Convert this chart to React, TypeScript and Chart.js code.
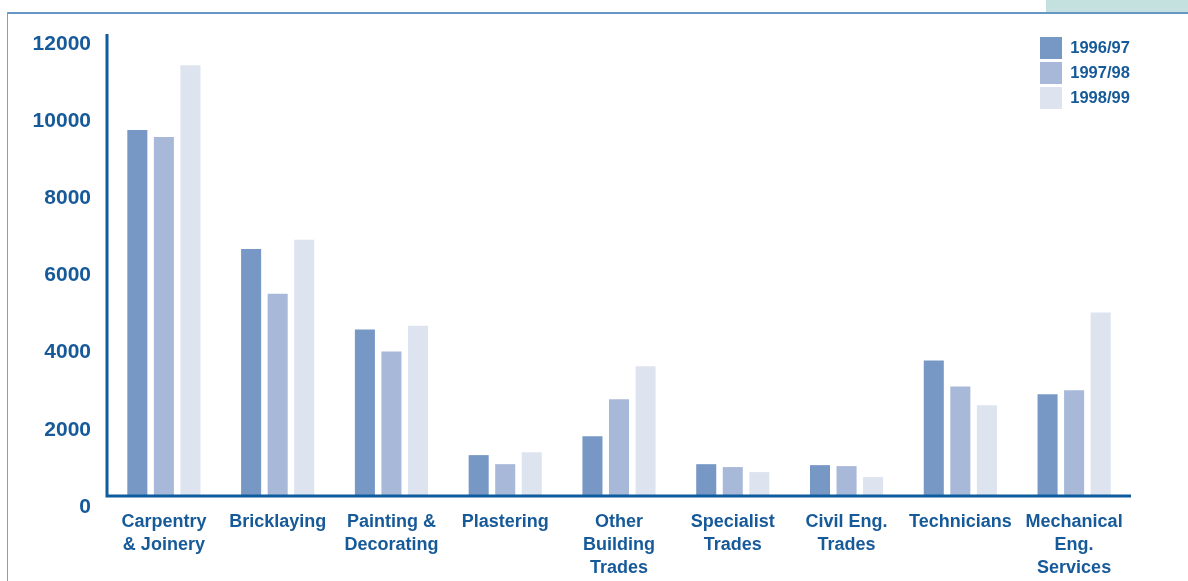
import React, { useEffect, useRef } from "react";
import { Chart, registerables } from "chart.js";

Chart.register(...registerables);

const categories: string[][] = [
  ["Carpentry", "& Joinery"],
  ["Bricklaying"],
  ["Painting &", "Decorating"],
  ["Plastering"],
  ["Other", "Building", "Trades"],
  ["Specialist", "Trades"],
  ["Civil Eng.", "Trades"],
  ["Technicians"],
  ["Mechanical", "Eng.", "Services"],
];

const seriesLabels = ["1996/97", "1997/98", "1998/99"];
const values9697 = [9770, 6690, 4600, 1345, 1835, 1110, 1085, 3800, 2920];
const values9798 = [9590, 5530, 4030, 1110, 2790, 1035, 1060, 3125, 3025];
const values9899 = [11450, 6925, 4700, 1420, 3645, 905, 775, 2635, 5040];
const yTicks = [0, 2000, 4000, 6000, 8000, 10000, 12000];

const Y_MAX = 12260;
const BAR_BASE = 284;
const colors = ["#7798c5", "#a7b8d8", "#dde3ef"];
const TEXT = "#175a99";
const AXIS = "#0e5b9d";
const FONT = "'Liberation Sans', Arial, Helvetica, sans-serif";

const axisLines = {
  id: "axisLines",
  afterDatasetsDraw(chart: any) {
    const { ctx, chartArea, scales } = chart;
    const y = scales.y;
    const yb = y.getPixelForValue(BAR_BASE);
    const yt = y.getPixelForValue(Y_MAX);
    ctx.save();
    ctx.strokeStyle = AXIS;
    ctx.lineWidth = 3;
    ctx.beginPath();
    ctx.moveTo(chartArea.left, yt);
    ctx.lineTo(chartArea.left, yb + 1.5);
    ctx.moveTo(chartArea.left - 1.5, yb);
    ctx.lineTo(chartArea.right, yb);
    ctx.stroke();
    ctx.restore();
  },
  afterLayout(chart: any) {
    const lg = chart.legend;
    if (lg) {
      const w = lg.width;
      lg.left = chart.chartArea.right - 94;
      lg.right = lg.left + w;
      const h = lg.height;
      lg.top = chart.chartArea.top;
      lg.bottom = lg.top + h;
    }
  },
};

export default function App() {
  const ref = useRef<HTMLCanvasElement | null>(null);
  useEffect(() => {
    if (!ref.current) return;
    const allValues = [values9697, values9798, values9899];
    const chart = new Chart(ref.current, {
      type: "bar",
      data: {
        labels: categories,
        datasets: seriesLabels.map((label, i) => ({
          label,
          data: allValues[i],
          backgroundColor: colors[i],
          borderWidth: 0,
          base: BAR_BASE,
          categoryPercentage: 0.7,
          barPercentage: 0.755,
        })),
      },
      options: {
        animation: false,
        responsive: false,
        maintainAspectRatio: false,
        layout: { padding: { top: 34, right: 57, bottom: 0, left: 0 } },
        plugins: {
          legend: {
            position: "chartArea" as any,
            align: "start",
            labels: {
              boxWidth: 22,
              boxHeight: 22,
              padding: 3,
              color: TEXT,
              font: { family: FONT, size: 16.5, weight: "bold" },
            },
          },
          tooltip: { enabled: false },
        },
        scales: {
          x: {
            grid: { display: false, drawTicks: false },
            border: { display: false },
            ticks: {
              color: TEXT,
              padding: 4,
              maxRotation: 0,
              autoSkip: false,
              font: { family: FONT, size: 18, weight: "bold", lineHeight: 23 / 18 },
            },
            afterFit: (s: any) => {
              s.height = 74;
            },
          },
          y: {
            min: 0,
            max: Y_MAX,
            grid: { display: false, drawTicks: false },
            border: { display: false },
            afterBuildTicks: (s: any) => {
              s.ticks = yTicks.map((v) => ({ value: v }));
            },
            ticks: {
              color: TEXT,
              padding: 16,
              callback: (v: any) => String(v),
              font: { family: FONT, size: 21, weight: "bold" },
            },
            afterFit: (s: any) => {
              s.width = 107;
            },
          },
        },
      },
      plugins: [axisLines],
    });
    return () => chart.destroy();
  }, []);

  return (
    <div style={{ position: "absolute", left: 0, top: 0, width: 1188, height: 581, background: "#fff", overflow: "hidden" }}>
      <div style={{ position: "absolute", left: 1046, top: 0, width: 142, height: 12, background: "#c4e1df" }} />
      <div style={{ position: "absolute", left: 7, top: 12, width: 1181, height: 2, background: "#6797c2" }} />
      <div style={{ position: "absolute", left: 7, top: 12, width: 1, height: 569, background: "#7aa3c9" }} />
      <canvas ref={ref} width={1188} height={581} style={{ position: "absolute", left: 0, top: 0, width: 1188, height: 581 }} />
    </div>
  );
}
